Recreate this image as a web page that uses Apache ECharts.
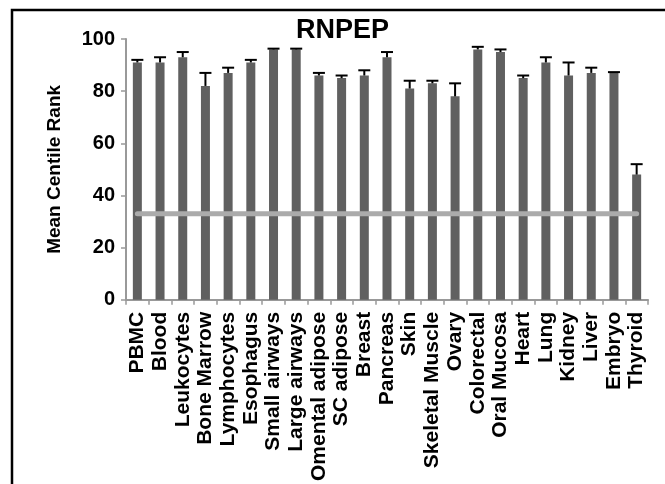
<!DOCTYPE html>
<html>
<head>
<meta charset="utf-8">
<script src="https://cdn.jsdelivr.net/npm/echarts@6/dist/echarts.min.js"></script>
<style>
  html, body { margin: 0; padding: 0; background: #fff; }
  #chart { width: 665px; height: 484px; }
</style>
</head>
<body>
<div id="chart"></div>
<script>
// Tissues on the x axis
const tissues = ['PBMC', 'Blood', 'Leukocytes', 'Bone Marrow', 'Lymphocytes', 'Esophagus',
  'Small airways', 'Large airways', 'Omental adipose', 'SC adipose', 'Breast', 'Pancreas',
  'Skin', 'Skeletal Muscle', 'Ovary', 'Colorectal', 'Oral Mucosa', 'Heart', 'Lung',
  'Kidney', 'Liver', 'Embryo', 'Thyroid'];
// Mean centile rank per tissue
const meanRank = [91, 91, 93, 82, 87, 91, 96, 96, 86, 85, 86, 93, 81, 83, 78, 96, 95, 85, 91, 86, 87, 87, 48];
// Upper error (SEM) per tissue
const errUp = [1, 2, 2, 5, 2, 1, 0.3, 0.3, 1, 1, 2, 2, 3, 1, 5, 1, 1, 1, 2, 5, 2, 0.3, 4];
// Reference level drawn as a horizontal line
const referenceLevel = 33;
const yTicks = [0, 20, 40, 60, 80, 100];

const FONT = "'Liberation Sans', Arial, sans-serif";
const chart = echarts.init(document.getElementById('chart'), null, { renderer: 'canvas' });

const errData = meanRank.map((v, i) => [i, v, v + errUp[i]]);

chart.setOption({
  animation: false,
  backgroundColor: '#fff',
  title: {
    text: 'RNPEP',
    left: 296,
    top: 17,
    padding: 0,
    textStyle: { fontFamily: FONT, fontSize: 27, fontWeight: 'bold', color: '#000' }
  },
  graphic: [{
    type: 'rect',
    shape: { x: 12, y: 10, width: 700, height: 520 },
    style: { fill: null, stroke: '#000', lineWidth: 2.5 },
    silent: true
  }],
  grid: { left: 126, right: 17, top: 39, bottom: 184, containLabel: false },
  xAxis: {
    type: 'category',
    data: tissues,
    boundaryGap: true,
    axisLine: { lineStyle: { color: '#999', width: 2 } },
    axisTick: { show: true, length: 5, interval: 0, lineStyle: { color: '#999', width: 1.5 } },
    axisLabel: {
      interval: 0, rotate: 90, margin: 12,
      fontFamily: FONT, fontSize: 21, fontWeight: 'bold', color: '#000'
    }
  },
  yAxis: {
    type: 'value',
    min: yTicks[0], max: yTicks[yTicks.length - 1], interval: 20,
    name: 'Mean Centile Rank',
    nameLocation: 'middle',
    nameGap: 62,
    nameRotate: 90,
    nameTextStyle: { fontFamily: FONT, fontSize: 19, fontWeight: 'bold', color: '#000' },
    axisLine: { show: true, lineStyle: { color: '#999', width: 2 } },
    axisTick: { show: true, length: 5, lineStyle: { color: '#999', width: 1.5 } },
    splitLine: { show: false },
    axisLabel: { margin: 11, fontFamily: FONT, fontSize: 20, fontWeight: 'bold', color: '#000' }
  },
  series: [
    {
      type: 'bar',
      data: meanRank,
      barWidth: 9,
      itemStyle: { color: '#606060' },
      z: 2
    },
    {
      type: 'custom',
      data: errData,
      z: 3,
      renderItem: function (params, api) {
        const x = api.value(0);
        const base = api.coord([x, api.value(1)]);
        const top = api.coord([x, api.value(2)]);
        const half = 6;
        const st = { stroke: '#000', lineWidth: 2 };
        return {
          type: 'group',
          children: [
            { type: 'line', shape: { x1: base[0], y1: base[1], x2: top[0], y2: top[1] }, style: st },
            { type: 'line', shape: { x1: top[0] - half, y1: top[1], x2: top[0] + half, y2: top[1] }, style: st }
          ]
        };
      }
    },
    {
      type: 'line',
      data: tissues.map(() => referenceLevel),
      symbol: 'none',
      lineStyle: { color: '#ababab', width: 5, cap: 'round' },
      z: 4
    }
  ]
});
</script>
</body>
</html>
